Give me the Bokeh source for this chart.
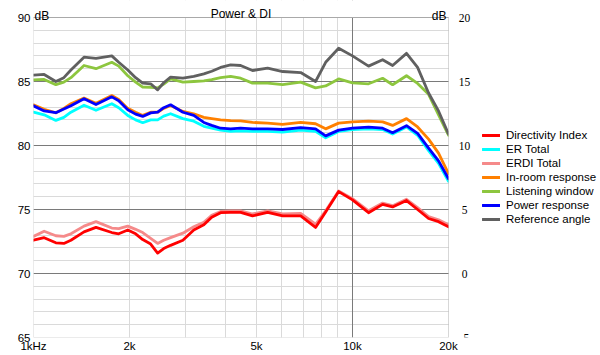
from bokeh.plotting import figure
from bokeh.models import (Range1d, FixedTicker, Grid, Legend, LegendItem, Label,
                          LabelSet, ColumnDataSource, BoxAnnotation)
from bokeh.embed import file_html
from bokeh.resources import INLINE

freq = [1000, 1080, 1175, 1245, 1310, 1440, 1570, 1760, 1850, 1975, 2090, 2200,
        2330, 2450, 2560, 2690, 2940, 3180, 3420, 3620, 3860, 4150, 4460, 4860,
        5420, 6040, 6880, 7660, 8240, 9050, 10000, 11230, 12430, 13360, 14770,
        16000, 17320, 18610, 20000]

reference_angle = [85.5, 85.55, 85.0, 85.3, 85.9, 86.9, 86.8, 87.0, 86.5, 85.9,
                   85.3, 84.87, 84.82, 84.35, 84.9, 85.34, 85.26, 85.4, 85.6, 85.8,
                   86.1, 86.3, 86.25, 85.86, 86.04, 85.78, 85.7, 85.0, 86.5, 87.6,
                   87.0, 86.2, 86.7, 86.25, 87.2, 86.1, 84.1, 82.7, 80.9]
listening_window = [85.13, 85.16, 84.75, 84.95, 85.3, 86.25, 86.0, 86.5, 86.2, 85.45,
                    84.95, 84.56, 84.55, 84.5, 84.8, 85.2, 84.95, 85.0, 85.05, 85.15,
                    85.3, 85.4, 85.26, 84.87, 84.87, 84.75, 84.95, 84.5, 84.65, 85.2,
                    84.9, 84.82, 85.25, 84.75, 85.45, 84.85, 84.0, 82.4, 80.8]
in_room = [83.18, 82.82, 82.56, 82.9, 83.26, 83.7, 83.3, 83.9, 83.6, 82.9,
           82.6, 82.35, 82.6, 82.6, 82.9, 83.13, 82.66, 82.48, 82.2, 82.1,
           82.0, 81.95, 81.93, 81.8, 81.75, 81.65, 81.8, 81.7, 81.3, 81.75,
           81.85, 81.9, 81.85, 81.57, 82.1, 81.45, 80.5, 79.4, 77.8]
power_response = [83.1, 82.7, 82.56, 82.85, 83.1, 83.65, 83.2, 83.8, 83.5, 82.8,
                  82.45, 82.27, 82.55, 82.6, 82.95, 83.18, 82.6, 82.35, 81.8, 81.57,
                  81.35, 81.3, 81.35, 81.3, 81.3, 81.25, 81.4, 81.3, 80.75, 81.2,
                  81.35, 81.44, 81.35, 81.0, 81.55, 80.95, 79.8, 78.8, 77.4]
er_total = [82.6, 82.4, 81.96, 82.2, 82.6, 83.15, 82.75, 83.26, 82.95, 82.35,
            82.0, 81.78, 82.0, 82.0, 82.3, 82.48, 82.1, 81.9, 81.5, 81.35,
            81.2, 81.1, 81.15, 81.1, 81.1, 81.05, 81.2, 81.1, 80.6, 81.1,
            81.25, 81.3, 81.25, 80.9, 81.45, 80.8, 79.6, 78.6, 77.2]
directivity_index = [2.6, 2.8, 2.4, 2.35, 2.6, 3.25, 3.6, 3.2, 3.1, 3.4,
                     3.1, 2.65, 2.3, 1.6, 1.95, 2.2, 2.6, 3.4, 3.8, 4.4,
                     4.75, 4.78, 4.78, 4.5, 4.78, 4.5, 4.5, 3.6, 4.8, 6.4,
                     5.75, 4.75, 5.4, 5.2, 5.7, 5.0, 4.3, 4.05, 3.65]
erdi_total = [2.9, 3.3, 2.95, 2.9, 3.1, 3.7, 4.05, 3.55, 3.5, 3.7,
              3.45, 3.2, 2.75, 2.35, 2.6, 2.8, 3.15, 3.65, 4.0, 4.55,
              4.85, 4.9, 4.9, 4.65, 4.9, 4.65, 4.7, 3.85, 4.9, 6.45,
              5.85, 4.9, 5.5, 5.3, 5.8, 5.15, 4.45, 4.2, 3.8]

x_ticks = [1000, 2000, 5000, 10000, 20000]
x_tick_labels = ["1kHz", "2k", "5k", "10k", "20k"]
left_ticks = [65, 70, 75, 80, 85, 90]
right_ticks = [-5, 0, 5, 10, 15, 20]
right_tick_labels = ["-5", "0", "5", "10", "15", "20"]

FONT = "Liberation Sans"
FS = "11.5px"
F_MIN, F_MAX = 1000, 20000
DB_MIN, DB_MAX = 65, 90
DI_MIN, DI_MAX = -5, 20
W, H = 600, 355
LEFT, BOTTOM = 33, 18
PLOT_W, PLOT_H = 415, 320          # drawn chart area in pixels
FRAME_W, FRAME_H = W - LEFT, H - BOTTOM
# the frame is extended up and right so head text, right scale and legend can sit in it
X_END = F_MIN * (F_MAX / F_MIN) ** (FRAME_W / PLOT_W)
HEAD = (DB_MAX - DB_MIN) * (FRAME_H / PLOT_H - 1)

p = figure(width=W, height=H, x_axis_type="log",
           x_range=Range1d(F_MIN, X_END), y_range=Range1d(DB_MIN, DB_MAX + HEAD),
           output_backend="svg", toolbar_location=None,
           min_border_left=LEFT, min_border_right=0,
           min_border_top=0, min_border_bottom=BOTTOM)
p.extra_y_ranges = {"di": Range1d(DI_MIN, DI_MAX + HEAD)}
p.background_fill_color = "white"
p.border_fill_color = "white"
p.outline_line_color = None

# axes
xa = p.xaxis[0]
xa.ticker = FixedTicker(ticks=x_ticks)
xa.major_label_overrides = {t: l for t, l in zip(x_ticks, x_tick_labels)}
ya = p.yaxis[0]
ya.ticker = FixedTicker(ticks=left_ticks)
for ax, so in ((xa, 2), (ya, 3)):
    ax.axis_line_color = None
    ax.major_tick_line_color = None
    ax.minor_tick_line_color = None
    ax.major_tick_out = 0
    ax.major_tick_in = 0
    ax.major_label_standoff = so
    ax.major_label_text_font = FONT
    ax.major_label_text_font_size = FS
    ax.major_label_text_color = "black"

# grids
minor_x = [2000, 3000, 4000, 5000, 6000, 7000, 8000, 9000]
minor_y = [v for v in range(DB_MIN + 1, DB_MAX) if v % 5 != 0]
p.xgrid.visible = False
p.ygrid.visible = False
p.add_layout(Grid(dimension=0, ticker=FixedTicker(ticks=minor_x), grid_line_color="#DADADA"))
p.add_layout(Grid(dimension=1, ticker=FixedTicker(ticks=minor_y), grid_line_color="#DADADA"))
p.add_layout(Grid(dimension=0, ticker=FixedTicker(ticks=[F_MIN, 10000]), grid_line_color="#7A7A7A"))
p.add_layout(Grid(dimension=1, ticker=FixedTicker(ticks=left_ticks), grid_line_color="#7A7A7A"))

src = ColumnDataSource(dict(f=freq, ref=reference_angle, lw=listening_window,
                            room=in_room, pw=power_response, er=er_total,
                            di=directivity_index, erdi=erdi_total))
kw = dict(line_width=2.8, line_join="round", line_cap="round")
r_erdi = p.line("f", "erdi", source=src, color="#F58A8A", y_range_name="di", **kw)
r_di = p.line("f", "di", source=src, color="#FF0000", y_range_name="di", **kw)
r_er = p.line("f", "er", source=src, color="#00FFFF", **kw)
r_room = p.line("f", "room", source=src, color="#FF8000", **kw)
r_pw = p.line("f", "pw", source=src, color="#0000FF", **kw)
r_lw = p.line("f", "lw", source=src, color="#8DC63F", **kw)
r_ref = p.line("f", "ref", source=src, color="#606060", **kw)

# blank the strips outside the chart area, then draw its border
p.add_layout(BoxAnnotation(bottom=DB_MAX, fill_color="white", fill_alpha=1,
                           line_color=None, level="annotation"))
p.add_layout(BoxAnnotation(left=F_MAX, fill_color="white", fill_alpha=1,
                           line_color=None, level="annotation"))
p.add_layout(BoxAnnotation(left=F_MIN, right=F_MAX, bottom=DB_MIN, top=DB_MAX,
                           fill_alpha=0, line_color="#7A7A7A", line_width=1,
                           level="annotation"))

# right (DI) scale
rsrc = ColumnDataSource(dict(x=[F_MAX] * len(right_ticks), y=right_ticks,
                             t=right_tick_labels))
p.add_layout(LabelSet(x="x", y="y", text="t", source=rsrc, y_range_name="di",
                      x_offset=16, text_align="center", text_baseline="middle",
                      text_font=FONT, text_font_size=FS, text_color="black",
                      level="annotation"))

# title and unit labels
p.add_layout(Label(x=(F_MIN * F_MAX) ** 0.5, y=DB_MAX, text="Power & DI",
                   y_offset=4, text_align="center", text_baseline="alphabetic",
                   text_font=FONT, text_font_size="12px", text_color="black"))
p.add_layout(Label(x=F_MIN, y=DB_MAX, text="dB", x_offset=1, y_offset=2,
                   text_baseline="alphabetic", text_font=FONT,
                   text_font_size="12px", text_color="black"))
p.add_layout(Label(x=F_MAX, y=DI_MAX, y_range_name="di", text="dB", x_offset=-2,
                   y_offset=2, text_align="right", text_baseline="alphabetic",
                   text_font=FONT, text_font_size="12px", text_color="black"))

legend = Legend(items=[
    LegendItem(label="Directivity Index", renderers=[r_di]),
    LegendItem(label="ER Total", renderers=[r_er]),
    LegendItem(label="ERDI Total", renderers=[r_erdi]),
    LegendItem(label="In-room response", renderers=[r_room]),
    LegendItem(label="Listening window", renderers=[r_lw]),
    LegendItem(label="Power response", renderers=[r_pw]),
    LegendItem(label="Reference angle", renderers=[r_ref]),
], location=(449, 111))
legend.padding = 0
legend.margin = 0
legend.spacing = 0
legend.glyph_width = 18
legend.glyph_height = 14
legend.label_height = 14
legend.label_standoff = 6
legend.label_text_font = FONT
legend.label_text_font_size = FS
legend.label_text_color = "black"
legend.border_line_color = None
legend.background_fill_alpha = 0
p.add_layout(legend)

open("out.html", "w").write(file_html(p, INLINE))
